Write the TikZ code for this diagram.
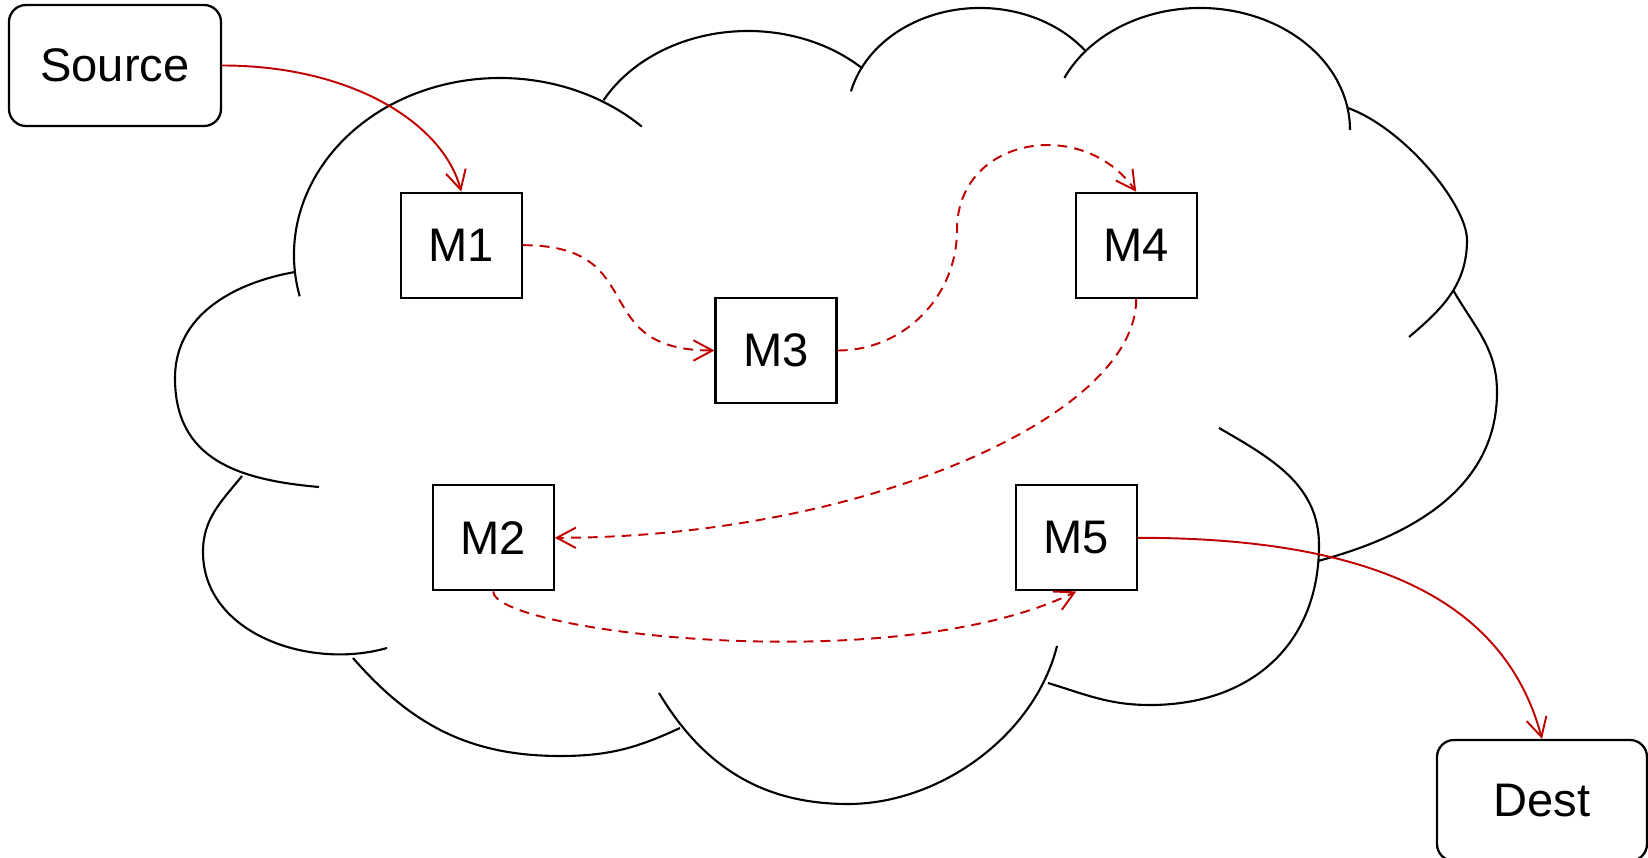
\documentclass[tikz,border=0pt]{standalone}
\usepackage{fontspec}
\setmainfont{Liberation Sans}
\usetikzlibrary{arrows.meta}
\definecolor{flowRed}{RGB}{192,0,0}

\begin{document}
\begin{tikzpicture}[>={Straight Barb[length=5.4pt,width=5.8pt]},
    cloudLine/.style={line width=0.6pt},
    machineBox/.style={draw, line width=0.65pt, inner sep=0pt,
      minimum width=1.21cm, minimum height=1.05cm,
      font=\fontsize{13.4}{16}\selectfont},
    endBox/.style={machineBox, rounded corners=0.17cm,
      minimum width=2.12cm, minimum height=1.21cm},
    flowLine/.style={->, draw=flowRed, line width=0.55pt},
    dashFlow/.style={flowLine, dash pattern=on 2.8pt off 2pt}]
  \useasboundingbox (0,0) rectangle (16.48,-8.58);

  % the cloud, puff by puff (top row as arcs)
  \draw[cloudLine] (5.00,-2.55) ++(193.5:2.06 and 1.77)
    arc[start angle=193.5, end angle=46.5, x radius=2.06, y radius=1.77];
  \draw[cloudLine] (7.48,-1.65) ++(151.1:1.65 and 1.34)
    arc[start angle=151.1, end angle=46.3, x radius=1.65, y radius=1.34];
  \draw[cloudLine] (9.80,-1.18) ++(166:1.33 and 1.10)
    arc[start angle=166, end angle=38, x radius=1.33, y radius=1.10];
  \draw[cloudLine] (12.00,-1.30) ++(154.7:1.50 and 1.22)
    arc[start angle=154.7, end angle=0, x radius=1.50, y radius=1.22];
  % right side and bottom
  \draw[cloudLine] (13.48,-1.08) .. controls +(0.564,-0.205) and +(0,0.35) .. (14.67,-2.40)
    to[out=-90,in=40] (14.09,-3.37);
  \draw[cloudLine] (14.53,-2.90) to[out=-60,in=90] (14.97,-3.92)
    to[out=-90,in=15] (13.18,-5.61);
  \draw[cloudLine] (12.19,-4.28) to[out=-30,in=90] (13.19,-5.45)
    to[out=-90,in=0,looseness=1.1] (11.50,-7.05) to[out=180,in=-17] (10.48,-6.83);
  \draw[cloudLine] (10.57,-6.46) to[out=-104,in=0,looseness=0.9] (8.48,-8.04)
    to[out=180,in=-59] (6.59,-6.93);
  \draw[cloudLine] (6.80,-7.28) to[out=205,in=0] (5.60,-7.56)
    to[out=180,in=-49] (3.53,-6.58);
  \draw[cloudLine] (3.87,-6.48) to[out=196,in=-90] (2.03,-5.52)
    to[out=90,in=-129] (2.42,-4.76);
  \draw[cloudLine] (2.95,-2.72) to[out=190,in=90] (1.75,-3.78)
    to[out=-90,in=175,looseness=1.15] (3.19,-4.87);

  % boxes
  \node[endBox] (source) at (1.15,-0.655) {Source};
  \node[endBox, minimum width=2.10cm] (dest) at (15.42,-8.005) {Dest};
  \node[machineBox] (m1) at (4.612,-2.452) {M1};
  \node[machineBox] (m2) at (4.932,-5.378) {M2};
  \node[machineBox] (m3) at (7.761,-3.505) {M3};
  \node[machineBox] (m4) at (11.362,-2.455) {M4};
  \node[machineBox] (m5) at (10.762,-5.378) {M5};

  % route through the cloud
  \draw[flowLine] (source.east) .. controls +(1.3,0) and +(-0.18,0.68) .. (m1.north);
  \draw[dashFlow] (m1.east) .. controls +(1.3,0) and +(-1.3,0) .. (m3.west);
  \draw[dashFlow] (m3.east) to[out=0,in=-90] (9.57,-2.30)
    to[out=90,in=125,looseness=1.3] (m4.north);
  \draw[dashFlow] (m4.south) .. controls +(0,-1.2) and +(3.0,0) .. (m2.east);
  \draw[dashFlow] (m2.south) .. controls +(0,-0.4) and +(-1.82,-0.89) .. (m5.south);
  \draw[flowLine] (m5.east) .. controls +(2.5,0) and +(-0.35,1.3) .. (dest.north);
\end{tikzpicture}
\end{document}
